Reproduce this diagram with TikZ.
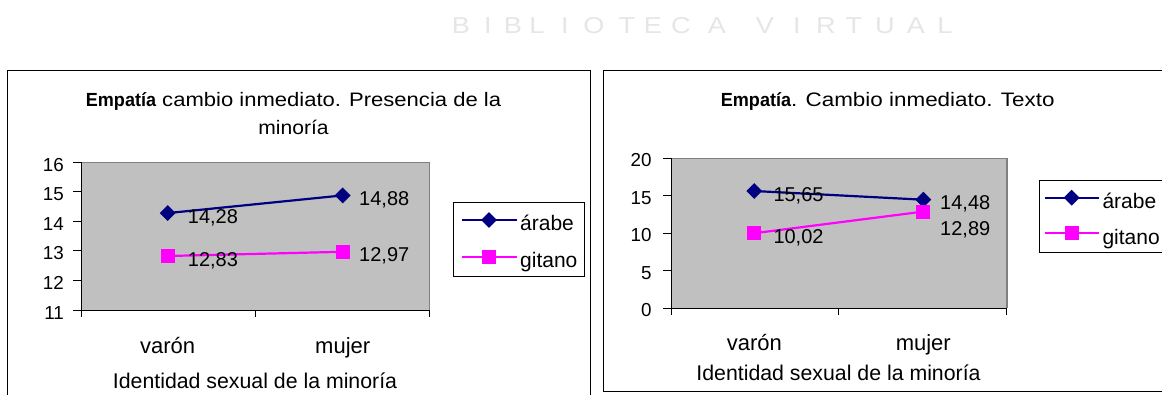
\documentclass[tikz,border=0pt]{standalone}
\usepackage{fontspec}
\setmainfont{Liberation Sans}
\usetikzlibrary{shapes.geometric}
\definecolor{navy}{HTML}{000080}
\definecolor{mag}{HTML}{FF00FF}
\definecolor{plotgray}{HTML}{C0C0C0}
\definecolor{framegray}{HTML}{808080}
\definecolor{wmgray}{HTML}{E6E6E6}
\newcommand{\wtxt}[1]{\scalebox{1.18}[1]{#1}}
\newcommand{\ttlbold}[1]{\scalebox{0.95}[1]{\fontsize{19}{23}\selectfont\bfseries #1}}
\newcommand{\ttlreg}[2]{\scalebox{#1}[1]{\fontsize{19.5}{23}\selectfont #2}}
\begin{document}
\begin{tikzpicture}[x=1pt,y=-1pt,
  ttl/.style={inner sep=0pt},
  ticklab/.style={font=\fontsize{18.8}{21}\selectfont, inner sep=0pt},
  datalab/.style={font=\fontsize{20}{23}\selectfont, inner sep=0pt},
  legtxt/.style={font=\fontsize{21}{24}\selectfont, inner sep=0pt},
  cattxt/.style={font=\fontsize{22}{25}\selectfont, inner sep=0pt},
  axtitle/.style={font=\fontsize{21.3}{24}\selectfont, inner sep=0pt},
  wm/.style={font=\fontsize{23}{26}\selectfont, text=wmgray, inner sep=0pt},
  dmark/.style={diamond, fill=navy, inner sep=0pt, minimum size=16pt},
  smark/.style={rectangle, fill=mag, inner sep=0pt, minimum size=14pt},
  aline/.style={navy, line width=2.2pt},
  gline/.style={mag, line width=2.2pt},
  chartframe/.style={draw=black, line width=1.2pt},
  plotborder/.style={framegray, line width=1.6pt},
  axisline/.style={black, line width=1pt},
  legendbox/.style={draw=black, fill=white, line width=1pt},
]
\useasboundingbox (0,0) rectangle (1162,394);
\fill[white] (0,0) rectangle (1162,394);
% watermark
\foreach \ch/\xx [count=\i] in {B/461,I/488,B/513,L/537,I/565,O/594,T/627,E/653,C/681,A/717,V/765,I/797,R/826,T/854,U/885,A/916,L/945}
  \node[wm, anchor=base] (wm\i) at (\xx,33) {\wtxt{\ch}};

%%%%%%%%%%%%%% LEFT CHART %%%%%%%%%%%%%%
\draw[chartframe] (7.5,396) -- (7.5,70.7) -- (590.7,70.7) -- (590.7,396);
\node[ttl, anchor=base west] (Lt1) at (85.7,106.7) {\ttlbold{Empatía}\ttlreg{1.13}{ cambio inmediato. Presencia de la}};
\node[ttl, anchor=base] (Lt2) at (293.5,134) {\ttlreg{1.08}{minoría}};
\fill[plotgray] (81,162.3) rectangle (429.3,310);
\draw[plotborder] (81,162.3) -- (429.3,162.3) -- (429.3,310);
\draw[axisline] (81,162.3) -- (81,310) -- (429.3,310);
\foreach \v in {11,...,16}{
  \pgfmathsetmacro{\yy}{310-(\v-11)*29.54}
  \draw[axisline] (73,\yy) -- (81,\yy);
  \node[ticklab, anchor=base east] (Ly\v) at (64,\yy+9) {\v};
}
\foreach \xx in {81,255.2,429.3}
  \draw[axisline] (\xx,310) -- (\xx,317);
\node[cattxt, anchor=base] (Lc1) at (167.7,353.3) {varón};
\node[cattxt, anchor=base] (Lc2) at (342.7,353.3) {mujer};
\node[axtitle, anchor=base] (Lax) at (255,388.3) {Identidad sexual de la minoría};
% data
\coordinate (LA1) at (167.7,213.1);
\coordinate (LA2) at (342.7,195.4);
\coordinate (LG1) at (167.7,256.0);
\coordinate (LG2) at (342.7,251.8);
\draw[aline] (LA1) -- (LA2);
\draw[gline] (LG1) -- (LG2);
\node[dmark] (LA1m) at (LA1) {};
\node[dmark] (LA2m) at (LA2) {};
\node[smark] (LG1m) at (LG1) {};
\node[smark] (LG2m) at (LG2) {};
\node[datalab, anchor=base west] (LA1l) at (187.7,223.3) {14,28};
\node[datalab, anchor=base west] (LG1l) at (187.7,266.7) {12,83};
\node[datalab, anchor=base west] (LA2l) at (359,205) {14,88};
\node[datalab, anchor=base west] (LG2l) at (359,261.7) {12,97};
% legend
\draw[legendbox] (453.3,202.3) rectangle (584,276.7);
\coordinate (LLa1) at (461.7,220);
\coordinate (LLa2) at (516.7,220);
\coordinate (LLg1) at (461.7,256.7);
\coordinate (LLg2) at (516.7,256.7);
\draw[aline] (LLa1) -- (LLa2);
\draw[gline] (LLg1) -- (LLg2);
\node[dmark] (LLam) at (489,220) {};
\node[smark] (LLgm) at (489,256.7) {};
\node[legtxt, anchor=base west] (LLat) at (520,230.7) {árabe};
\node[legtxt, anchor=base west] (LLgt) at (520,267.3) {gitano};

%%%%%%%%%%%%%% RIGHT CHART %%%%%%%%%%%%%%
\draw[chartframe] (1166,70.7) -- (603.3,70.7) -- (603.3,391.7) -- (1166,391.7);
\node[ttl, anchor=base west] (Rt1) at (720.7,106.7) {\ttlbold{Empatía}\ttlreg{1.15}{. Cambio inmediato. Texto}};
\fill[plotgray] (671,158.3) rectangle (1006.7,308.3);
\draw[plotborder] (671,158.3) -- (1006.7,158.3) -- (1006.7,308.3);
\draw[axisline] (671,158.3) -- (671,308.3) -- (1006.7,308.3);
\foreach \v in {0,5,10,15,20}{
  \pgfmathsetmacro{\yy}{308.3-\v*7.5}
  \draw[axisline] (663,\yy) -- (671,\yy);
  \node[ticklab, anchor=base east] (Ry\v) at (651.7,\yy+8.6) {\v};
}
\foreach \xx in {671,838.9,1006.7}
  \draw[axisline] (\xx,308.3) -- (\xx,315);
\node[cattxt, anchor=base] (Rc1) at (754.3,350) {varón};
\node[cattxt, anchor=base] (Rc2) at (923.3,350) {mujer};
\node[axtitle, anchor=base] (Rax) at (838.5,380.7) {Identidad sexual de la minoría};
% data
\coordinate (RA1) at (754.3,191.0);
\coordinate (RA2) at (923.3,199.7);
\coordinate (RG1) at (754.3,233.2);
\coordinate (RG2) at (923.3,211.6);
\draw[aline] (RA1) -- (RA2);
\draw[gline] (RG1) -- (RG2);
\node[dmark] (RA1m) at (RA1) {};
\node[dmark] (RA2m) at (RA2) {};
\node[smark] (RG1m) at (RG1) {};
\node[smark] (RG2m) at (RG2) {};
\node[datalab, anchor=base west] (RA1l) at (773.3,201.7) {15,65};
\node[datalab, anchor=base west] (RG1l) at (773.3,243.3) {10,02};
\node[datalab, anchor=base west] (RA2l) at (940,209.3) {14,48};
\node[datalab, anchor=base west] (RG2l) at (940,235) {12,89};
% legend
\draw[legendbox] (1039,180.7) rectangle (1170,252.3);
\coordinate (RLa1) at (1045,197.7);
\coordinate (RLa2) at (1099.3,197.7);
\coordinate (RLg1) at (1045,233.3);
\coordinate (RLg2) at (1099.3,233.3);
\draw[aline] (RLa1) -- (RLa2);
\draw[gline] (RLg1) -- (RLg2);
\node[dmark] (RLam) at (1071.7,197.7) {};
\node[smark] (RLgm) at (1071.7,233.3) {};
\node[legtxt, anchor=base west] (RLat) at (1102.3,208.3) {árabe};
\node[legtxt, anchor=base west] (RLgt) at (1102.3,244.3) {gitano};
\end{tikzpicture}
\end{document}
